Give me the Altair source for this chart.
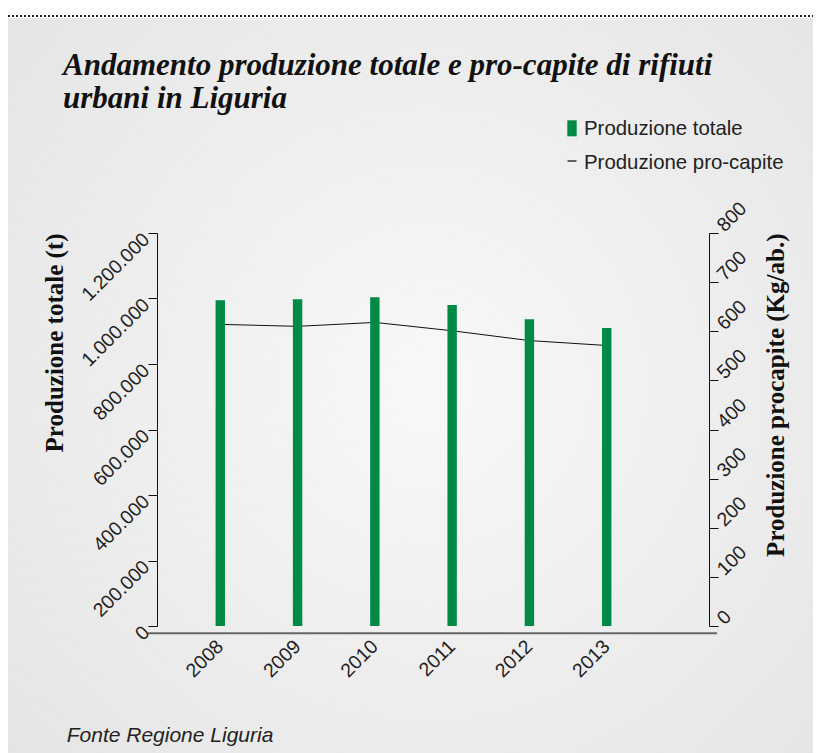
import altair as alt
import pandas as pd

# ---- data ----
years = ["2008", "2009", "2010", "2011", "2012", "2013"]
produzione_totale = [995000, 998000, 1004000, 980000, 937000, 910000]   # t
produzione_procapite = [614, 610, 618, 601, 581, 571]                   # kg/ab.

left_ticks = [0, 200000, 400000, 600000, 800000, 1000000, 1200000]
right_ticks = [0, 100, 200, 300, 400, 500, 600, 700, 800]

title_lines = ["Andamento produzione totale e pro-capite di rifiuti", "urbani in Liguria"]
legend_labels = ["Produzione totale", "Produzione pro-capite"]
source_note = "Fonte Regione Liguria"
left_title = "Produzione totale (t)"
right_title = "Produzione procapite (Kg/ab.)"

GREEN = "#008A46"
SANS = "Liberation Sans"
SERIF = "Liberation Serif"

df = pd.DataFrame({"anno": years, "totale": produzione_totale, "procapite": produzione_procapite})
one = alt.Data(values=[{}])

W, H = 552, 393
RIGHT_EDGE = 656  # chart right edge, relative to plot origin

x_enc = alt.X(
    "anno:O",
    scale=alt.Scale(type="band", range=[24.66, 488.34], paddingInner=0, paddingOuter=0),
    axis=alt.Axis(title=None, domain=False, ticks=False, grid=False, zindex=2,
                  labelAngle=-45, labelAlign="right", labelBaseline="middle",
                  labelPadding=17, labelFont=SANS, labelFontSize=19.5, labelColor="#222"),
)

# background panel with soft radial gradient
bg = alt.Chart(one).mark_rect(
    fill=alt.RadialGradient(
        gradient="radial",
        stops=[alt.GradientStop(color="#f8f8f8", offset=0),
               alt.GradientStop(color="#e3e3e3", offset=1)],
        x1=0.52, y1=0.5, r1=0, x2=0.52, y2=0.5, r2=0.75,
    )
).encode(x=alt.value(-149), x2=alt.value(RIGHT_EDGE), y=alt.value(-215), y2=alt.value(520))

dotted = alt.Chart(one).mark_rule(color="#222", strokeWidth=2, strokeDash=[2, 2]).encode(
    x=alt.value(-149), x2=alt.value(RIGHT_EDGE), y=alt.value(-217))

xline = alt.Chart(one).mark_rule(color="#666", strokeWidth=2).encode(
    x=alt.value(-9), x2=alt.value(560), y=alt.value(400.3))

line = alt.Chart(df).mark_line(color="#111", strokeWidth=1).encode(
    x=x_enc,
    y=alt.Y("procapite:Q",
            scale=alt.Scale(domain=[0, 800], nice=False),
            axis=alt.Axis(orient="right", values=right_ticks, grid=False, zindex=2,
                          labelOverlap=False,
                          domainColor="#111", tickColor="#111", tickSize=9,
                          labelAngle=-45, labelAlign="left", labelBaseline="middle",
                          labelPadding=2, labelOffset=-5,
                          labelFont=SANS, labelFontSize=19.5, labelColor="#222",
                          title=right_title, titleFont=SERIF, titleFontSize=25,
                          titleFontWeight="bold", titleColor="#111", titleAngle=270,
                          titleAlign="right", titleBaseline="alphabetic",
                          titleX=74, titleY=0)),
)

bars = alt.Chart(df).mark_bar(width=9.4, color=GREEN).encode(
    x=x_enc,
    y=alt.Y("totale:Q",
            scale=alt.Scale(domain=[0, 1200000], nice=False),
            axis=alt.Axis(orient="left", values=left_ticks, grid=False, zindex=2,
                          labelOverlap=False,
                          labelExpr="replace(replace(format(datum.value, ','), ',', '.'), ',', '.')",
                          domainColor="#111", tickColor="#111", tickSize=9,
                          labelAngle=-45, labelAlign="right", labelBaseline="middle",
                          labelPadding=2, labelOffset=3,
                          labelFont=SANS, labelFontSize=19.5, labelColor="#222",
                          title=left_title, titleFont=SERIF, titleFontSize=25,
                          titleFontWeight="bold", titleColor="#111", titleAngle=270,
                          titleAlign="right", titleBaseline="alphabetic",
                          titleX=-95, titleY=0)),
)

title_1 = alt.Chart(one).mark_text(
    align="left", baseline="alphabetic", font=SERIF, fontSize=31, fontStyle="italic",
    fontWeight="bold", color="#111",
).encode(x=alt.value(-94), y=alt.value(-158.5), text=alt.value(title_lines[0]))
title_2 = alt.Chart(one).mark_text(
    align="left", baseline="alphabetic", font=SERIF, fontSize=31, fontStyle="italic",
    fontWeight="bold", color="#111",
).encode(x=alt.value(-94), y=alt.value(-125), text=alt.value(title_lines[1]))

leg_rect = alt.Chart(one).mark_rect(color=GREEN).encode(
    x=alt.value(410.3), x2=alt.value(419.7), y=alt.value(-112.7), y2=alt.value(-96.7))
leg_dash = alt.Chart(one).mark_rule(color="#333", strokeWidth=1.5).encode(
    x=alt.value(410.5), x2=alt.value(419.5), y=alt.value(-72))
leg_t1 = alt.Chart(one).mark_text(align="left", baseline="alphabetic", font=SANS,
                                  fontSize=20.4, color="#222").encode(
    x=alt.value(427), y=alt.value(-98.3), text=alt.value(legend_labels[0]))
leg_t2 = alt.Chart(one).mark_text(align="left", baseline="alphabetic", font=SANS,
                                  fontSize=20.4, color="#222").encode(
    x=alt.value(427), y=alt.value(-64.3), text=alt.value(legend_labels[1]))

footer = alt.Chart(one).mark_text(align="left", baseline="alphabetic", font=SANS,
                                  fontSize=21, fontStyle="italic", color="#222").encode(
    x=alt.value(-90.3), y=alt.value(509.3), text=alt.value(source_note))

chart = (
    alt.layer(bg, dotted, xline, line, bars, title_1, title_2,
              leg_rect, leg_dash, leg_t1, leg_t2, footer)
    .resolve_scale(y="independent")
    .properties(width=W, height=H,
                padding={"left": 149, "top": 225, "right": RIGHT_EDGE - W, "bottom": 127},
                autosize=alt.AutoSizeParams(type="none"))
    .configure_view(stroke=None)
    .configure(background="white")
)

chart.save("out.html", embed_options={"renderer": "svg", "actions": False})
